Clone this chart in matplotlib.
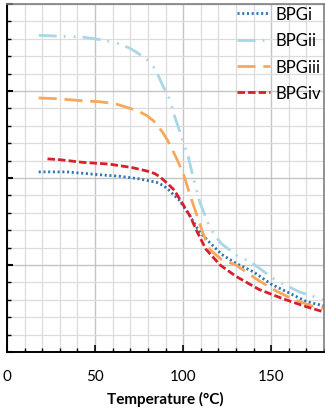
import matplotlib
matplotlib.use("Agg")
import matplotlib.pyplot as plt
from matplotlib.ticker import MultipleLocator, NullFormatter

plt.rcParams['font.family'] = ['Lato', 'DejaVu Sans']
plt.rcParams['lines.scale_dashes'] = False

# Temperature (°C) and response for each sample
t_i = [18, 34, 51, 64, 75, 85, 89, 92, 95, 98, 104, 109, 115, 122, 130, 140, 150, 160, 170, 180]
v_i = [10.35, 10.35, 10.2, 10.1, 9.95, 9.75, 9.55, 9.3, 9.0, 8.7, 7.8, 6.95, 6.3, 5.6, 5.1, 4.6, 3.9, 3.4, 2.9, 2.65]

t_ii = [18, 30, 43, 53, 58.5, 64, 70, 77, 82, 85, 88, 92.5, 95, 99, 103, 106, 109.5, 115, 118, 122, 126, 131, 138, 153, 166, 180]
v_ii = [18.2, 18.15, 18.1, 17.95, 17.85, 17.7, 17.45, 17.0, 16.6, 16.1, 15.4, 14.5, 13.6, 12.4, 11.2, 9.9, 8.6, 7.2, 6.7, 6.2, 5.9, 5.5, 5.2, 4.1, 3.45, 3.0]

t_iii = [18, 30, 41, 53, 62, 70, 75, 79.5, 83, 86, 88.5, 91, 95, 100, 104, 108, 111, 115, 122, 130, 143, 153, 162, 173, 180]
v_iii = [14.6, 14.55, 14.45, 14.38, 14.25, 14.0, 13.82, 13.58, 13.3, 12.95, 12.6, 12.2, 11.4, 10.3, 9.0, 7.8, 6.9, 5.9, 5.3, 5.0, 4.1, 3.5, 3.05, 2.65, 2.5]

t_iv = [23, 30, 43, 58, 71, 79.5, 84, 87, 91.5, 95, 98, 104, 108, 113, 121, 130, 143, 157, 170, 180]
v_iv = [11.1, 11.05, 10.9, 10.8, 10.6, 10.4, 10.25, 10.05, 9.65, 9.3, 8.8, 7.8, 6.9, 5.9, 5.0, 4.35, 3.6, 3.05, 2.6, 2.3]

labels = ["BPGi", "BPGii", "BPGiii", "BPGiv"]
x_ticks = [0, 50, 100, 150]

W, H = 325, 414
fig = plt.figure(figsize=(W / 100, H / 100), dpi=100)
ax = fig.add_axes([7 / W, (H - 353) / H, (324 - 7) / W, (353 - 5) / H])

ax.plot(t_i, v_i, color="#2e75b6", lw=2.0, dashes=(1.5, 1.9), label=labels[0])
ax.plot(t_ii, v_ii, color="#a9d7e8", lw=2.0, dashes=(13, 5, 1.4, 5.8, 1.4, 5), label=labels[1])
ax.plot(t_iii, v_iii, color="#f8a75c", lw=2.0, dashes=(13, 5.6), label=labels[2])
ax.plot(t_iv, v_iv, color="#d9202a", lw=2.0, dashes=(5.4, 2.2), label=labels[3])

ax.set_xlim(0, 180)
ax.set_ylim(0, 20)
ax.set_xticks(x_ticks)
ax.xaxis.set_minor_locator(MultipleLocator(10))
ax.yaxis.set_major_locator(MultipleLocator(5))
ax.yaxis.set_minor_locator(MultipleLocator(1))
ax.yaxis.set_major_formatter(NullFormatter())

ax.set_axisbelow(True)
ax.grid(which="minor", color="#dcdcdc", lw=0.9)
ax.grid(which="major", color="#c4c4c4", lw=1.0)

ax.tick_params(axis="both", which="both", direction="in", colors="black")
ax.tick_params(axis="x", which="major", length=5, width=1.2, pad=12, labelsize=11)
ax.tick_params(axis="x", which="minor", length=3, width=1.0)
ax.tick_params(axis="y", which="major", length=4, width=1.5)
ax.tick_params(axis="y", which="minor", length=3, width=1.0)

for s in ("left", "bottom"):
    ax.spines[s].set_color("black")
    ax.spines[s].set_linewidth(1.4)
for s in ("top", "right"):
    ax.spines[s].set_color("#7f7f7f")
    ax.spines[s].set_linewidth(1.2)

ax.set_xlabel("Temperature (°C)", fontsize=11, fontweight="bold", labelpad=6)

ax.legend(loc="upper left", bbox_to_anchor=(237 / W, 1 - 7 / H),
          bbox_transform=fig.transFigure, frameon=False, fontsize=12,
          handlelength=2.0, handletextpad=0.3, labelspacing=0.62,
          borderpad=0, borderaxespad=0)

fig.savefig("out.png", dpi=100)
